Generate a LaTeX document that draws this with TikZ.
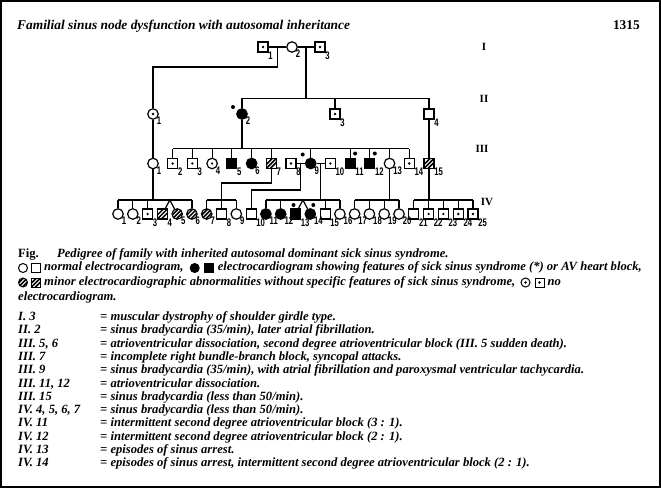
\documentclass[tikz,border=0pt]{standalone}
\usepackage{fontspec}
\setmainfont{Liberation Serif}
\newfontfamily\numfont{Liberation Sans}[FakeStretch=0.7]
\usetikzlibrary{positioning,calc}

\begin{document}
\begin{tikzpicture}[x=1pt,y=-1pt,
    num/.style={label={[font=\numfont\bfseries\fontsize{11}{11}\selectfont,inner sep=0pt,anchor=west,yshift=-3pt,xshift=-0.5pt]south east:#1}}]
  \tikzstyle{male}=[draw,rectangle,line width=1.2pt,minimum size=10pt,inner sep=0pt]
  \tikzstyle{female}=[draw,circle,line width=1.2pt,minimum size=10.5pt,inner sep=0pt]
  \tikzstyle{ill}=[fill=black]
  \tikzstyle{noecg}=[path picture={\fill (path picture bounding box.center) circle (1.3pt);}]
  \tikzstyle{minor}=[path picture={\foreach \d in {-4pt,0pt,4pt}
      \draw[line width=1.5pt] ([xshift=\d]path picture bounding box.south west) -- ([xshift=\d]path picture bounding box.north east);}]
  \tikzstyle{legsym}=[minimum size=9pt,line width=1pt]
  \tikzstyle{kin}=[line width=1.2pt]
  \tikzstyle{gen}=[font=\bfseries\fontsize{11}{11}\selectfont,inner sep=0pt]
  \tikzstyle{txt}=[font=\bfseries\itshape\fontsize{12.6}{14}\selectfont,inner sep=0pt,anchor=base west]
  \tikzstyle{ltxt}=[font=\bfseries\itshape\fontsize{12.6}{14}\selectfont,inner sep=0pt,text height=8.5pt,text depth=2.7pt]
  \useasboundingbox (0,0) rectangle (661,488);
  \draw[line width=1.6pt] (1,1) rectangle (660,487);

  % heading
  \node[txt,font=\bfseries\itshape\fontsize{13.4}{15}\selectfont] (title) at (17,29) {Familial sinus node dysfunction with autosomal inheritance};
  \node[txt,anchor=base east,font=\bfseries\fontsize{13.4}{15}\selectfont] (page) at (640,29) {1315};

  % generation labels
  \node[gen] (genI) at (484,47) {I};
  \node[gen] (genII) at (484,99) {II};
  \node[gen] (genIII) at (482,149) {III};
  \node[gen] (genIV) at (487,202) {IV};

  % generation I
  \node[male,noecg,num=1] (I1) at (263,47) {};
  \node[female,num=2] (I2) at (292,47) {};
  \node[male,noecg,num=3] (I3) at (320,47) {};
  \draw[kin] (I1) -- (I2) -- (I3);
  \coordinate (m12) at ($(I1)!0.5!(I2)$);
  \coordinate (m23) at ($(I2)!0.5!(I3)$);

  % generation II
  \node[female,noecg,num=1] (II1) at (153,114) {};
  \node[female,ill,num=2] (II2) at (242,114) {};
  \node[male,noecg,num=3] (II3) at (335,114) {};
  \node[male,num=4] (II4) at (429,114) {};
  \fill ([shift={(-9,-7)}]II2.center) circle (2pt);
  \draw[kin] (m12) -- ++(0,20) -| (II1);
  \draw[kin] (m23) -- ++(0,51.5) coordinate (sII);
  \draw[kin] (II2) -- (II2 |- sII) -- (II4 |- sII) -- (II4);
  \draw[kin] (II3) -- (II3 |- sII);

  % generation III
  \node[female,num=1] (III1) at (153,163.5) {};
  \node[male,noecg,num=2] (III2) at (172.7,163.5) {};
  \node[male,noecg,num=3] (III3) at (192.4,163.5) {};
  \node[female,noecg,num=4] (III4) at (212.1,163.5) {};
  \node[male,ill,num=5] (III5) at (231.8,163.5) {};
  \node[female,ill,num=6] (III6) at (251.6,163.5) {};
  \node[male,minor,num=7] (III7) at (271.3,163.5) {};
  \node[male,noecg,num=8] (III8) at (291,163.5) {};
  \node[female,ill,num=9] (III9) at (310.7,163.5) {};
  \node[male,noecg,num=10] (III10) at (330.4,163.5) {};
  \node[male,ill,num=11] (III11) at (350.1,163.5) {};
  \node[male,ill,num=12] (III12) at (369.8,163.5) {};
  \node[female,num=13] (III13) at (389.5,163.5) {};
  \node[male,noecg,num=14] (III14) at (409.2,163.5) {};
  \node[male,minor,num=15] (III15) at (429,163.5) {};
  \fill ([shift={(-8,-9)}]III9.center) circle (2pt);
  \fill ([shift={(5,-10)}]III11.center) circle (2pt);
  \fill ([shift={(5,-10)}]III12.center) circle (2pt);
  \coordinate (sIII) at (0,148.5);
  \draw[kin] (II2) -- (II2 |- sIII);
  \draw[kin] (III2 |- sIII) -- (III14 |- sIII);
  \foreach \c in {III2,III3,III4,III5,III6,III7,III9,III11,III12,III13,III14}
    \draw[kin] (\c) -- (\c |- sIII);
  \draw[kin] (II1) -- (III1);
  \draw[kin] (II4) -- (III15);
  \draw[kin] (III8) -- (III9) -- (III10);
  \coordinate (m89) at ($(III8)!0.5!(III9)$);
  \coordinate (m910) at ($(III9)!0.5!(III10)$);

  % generation IV
  \node[female,num=1] (IV1) at (118,214) {};
  \node[female,num=2] (IV2) at (132.8,214) {};
  \node[male,noecg,num=3] (IV3) at (147.6,214) {};
  \node[male,minor,num=4] (IV4) at (162.4,214) {};
  \node[female,minor,num=5] (IV5) at (177.2,214) {};
  \node[female,minor,num=6] (IV6) at (191.9,214) {};
  \node[female,minor,num=7] (IV7) at (206.7,214) {};
  \node[male,num=8] (IV8) at (221.5,214) {};
  \node[female,num=9] (IV9) at (236.3,214) {};
  \node[male,num=10] (IV10) at (251.1,214) {};
  \node[female,ill,num=11] (IV11) at (265.9,214) {};
  \node[female,ill,num=12] (IV12) at (280.7,214) {};
  \node[male,ill,num=13] (IV13) at (295.5,214) {};
  \node[female,ill,num=14] (IV14) at (310.3,214) {};
  \node[male,num=15] (IV15) at (325.1,214) {};
  \node[female,num=16] (IV16) at (339.9,214) {};
  \node[female,num=17] (IV17) at (354.6,214) {};
  \node[female,num=18] (IV18) at (369.4,214) {};
  \node[female,num=19] (IV19) at (384.2,214) {};
  \node[female,num=20] (IV20) at (399,214) {};
  \node[male,num=21] (IV21) at (413.8,214) {};
  \node[male,noecg,num=22] (IV22) at (428.6,214) {};
  \node[male,noecg,num=23] (IV23) at (443.4,214) {};
  \node[male,noecg,num=24] (IV24) at (458.2,214) {};
  \node[male,noecg,num=25] (IV25) at (473,214) {};
  \fill ([shift={(-2,-9)}]IV13.center) circle (2pt);
  \fill ([shift={(3,-9)}]IV14.center) circle (2pt);
  \coordinate (sIV) at (0,200);
  % children of III.1
  \draw[kin] (III1) -- (III1 |- sIV);
  \draw[kin] (IV1 |- sIV) -- (IV6 |- sIV);
  \foreach \c in {IV1,IV2,IV3,IV6}
    \draw[kin] (\c) -- (\c |- sIV);
  \coordinate (tw1) at ($(IV4 |- sIV)!0.5!(IV5 |- sIV)$);
  \draw[kin] (IV4) -- (tw1) -- (IV5);
  % children of III.7
  \draw[kin] (III7) -- ++(0,19.5) -| (IV8 |- sIV);
  \draw[kin] (IV7 |- sIV) -- (IV9 |- sIV);
  \foreach \c in {IV7,IV8,IV9}
    \draw[kin] (\c) -- (\c |- sIV);
  % children of III.9
  \draw[kin] (m89) -- ++(0,26.5) -| (IV10);
  \draw[kin] (m910) -- (m910 |- sIV);
  \draw[kin] (IV11 |- sIV) -- (IV16 |- sIV);
  \foreach \c in {IV11,IV12,IV15,IV16}
    \draw[kin] (\c) -- (\c |- sIV);
  \coordinate (tw2) at ($(IV13 |- sIV)!0.5!(IV14 |- sIV)$);
  \draw[kin] (IV13) -- (tw2) -- (IV14);
  % children of III.13
  \draw[kin] (III13) -- (III13 |- sIV);
  \draw[kin] (IV17 |- sIV) -- (IV20 |- sIV);
  \foreach \c in {IV17,IV18,IV19,IV20}
    \draw[kin] (\c) -- (\c |- sIV);
  % children of III.15
  \draw[kin] (III15) -- (III15 |- sIV);
  \draw[kin] (IV21 |- sIV) -- (IV25 |- sIV);
  \foreach \c in {IV21,IV22,IV23,IV24,IV25}
    \draw[kin] (\c) -- (\c |- sIV);

  % caption and key
  \node[txt,font=\bfseries\fontsize{12.6}{14}\selectfont] (fig) at (18,257) {Fig.};
  \node[txt] (cap1) at (57,257) {Pedigree of family with inherited autosomal dominant sick sinus syndrome.};
  \node[female,legsym] (lgA) at (23,268) {};
  \node[male,legsym,right=3pt of lgA] (lgB) {};
  \node[ltxt,right=3pt of lgB] (cap2a) {normal electrocardiogram,};
  \node[female,legsym,ill,right=6pt of cap2a] (lgC) {};
  \node[male,legsym,ill,right=4pt of lgC] (lgD) {};
  \node[ltxt,right=4pt of lgD] (cap2b) {electrocardiogram showing features of sick sinus syndrome (*) or AV heart block,};
  \node[female,legsym,minor] (lgE) at (23,282.5) {};
  \node[male,legsym,minor,right=3pt of lgE] (lgF) {};
  \node[ltxt,right=3pt of lgF] (cap3a) {minor electrocardiographic abnormalities without specific features of sick sinus syndrome,};
  \node[female,legsym,noecg,right=5pt of cap3a] (lgG) {};
  \node[male,legsym,noecg,right=4pt of lgG] (lgH) {};
  \node[ltxt,right=3pt of lgH] (cap3b) {no};
  \node[txt] (cap4) at (18,300) {electrocardiogram.};

  % notes on individuals
  \node[txt] (k1) at (18,320.5) {I. 3};
  \node[txt] (d1) at (100,320.5) {= muscular dystrophy of shoulder girdle type.};
  \node[txt] (k2) at (18,333.8) {II. 2};
  \node[txt] (d2) at (100,333.8) {= sinus bradycardia (35/min), later atrial fibrillation.};
  \node[txt] (k3) at (18,347.1) {III. 5, 6};
  \node[txt] (d3) at (100,347.1) {= atrioventricular dissociation, second degree atrioventricular block (III. 5 sudden death).};
  \node[txt] (k4) at (18,360.4) {III. 7};
  \node[txt] (d4) at (100,360.4) {= incomplete right bundle-branch block, syncopal attacks.};
  \node[txt] (k5) at (18,373.7) {III. 9};
  \node[txt] (d5) at (100,373.7) {= sinus bradycardia (35/min), with atrial fibrillation and paroxysmal ventricular tachycardia.};
  \node[txt] (k6) at (18,387) {III. 11, 12};
  \node[txt] (d6) at (100,387) {= atrioventricular dissociation.};
  \node[txt] (k7) at (18,400.3) {III. 15};
  \node[txt] (d7) at (100,400.3) {= sinus bradycardia (less than 50/min).};
  \node[txt] (k8) at (18,413.6) {IV. 4, 5, 6, 7};
  \node[txt] (d8) at (100,413.6) {= sinus bradycardia (less than 50/min).};
  \node[txt] (k9) at (18,426.9) {IV. 11};
  \node[txt] (d9) at (100,426.9) {= intermittent second degree atrioventricular block (3 : 1).};
  \node[txt] (k10) at (18,440.2) {IV. 12};
  \node[txt] (d10) at (100,440.2) {= intermittent second degree atrioventricular block (2 : 1).};
  \node[txt] (k11) at (18,453.5) {IV. 13};
  \node[txt] (d11) at (100,453.5) {= episodes of sinus arrest.};
  \node[txt] (k12) at (18,466.8) {IV. 14};
  \node[txt] (d12) at (100,466.8) {= episodes of sinus arrest, intermittent second degree atrioventricular block (2 : 1).};
\end{tikzpicture}
\end{document}
